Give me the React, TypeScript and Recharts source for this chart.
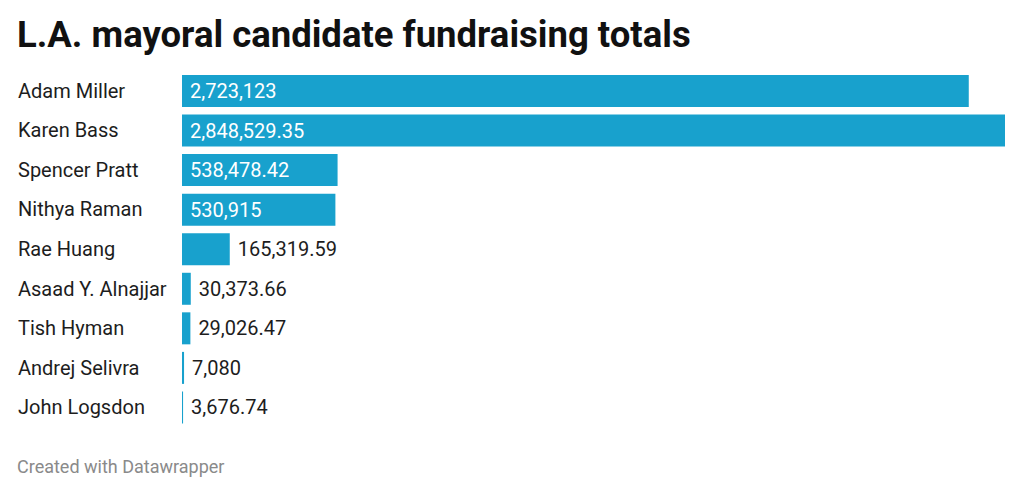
import React from 'react';
import { BarChart, Bar, XAxis, YAxis, LabelList } from 'recharts';

const candidates = [
  'Adam Miller',
  'Karen Bass',
  'Spencer Pratt',
  'Nithya Raman',
  'Rae Huang',
  'Asaad Y. Alnajjar',
  'Tish Hyman',
  'Andrej Selivra',
  'John Logsdon',
];

const totals = [
  2723123, 2848529.35, 538478.42, 530915, 165319.59, 30373.66, 29026.47, 7080,
  3676.74,
];

const data = candidates.map((name, i) => ({ name, total: totals[i] }));

const FONT = 'Roboto, "Noto Sans", sans-serif';
const BAR_COLOR = '#18a1cd';

const fmt = (v: number) =>
  v.toLocaleString('en-US', { maximumFractionDigits: 2 });

function NameTick({ y, payload }: any) {
  return (
    <text
      x={18}
      y={y}
      dy={7}
      textAnchor="start"
      fill="#1d1d1d"
      fontSize={20}
      fontFamily={FONT}
    >
      {payload.value}
    </text>
  );
}

function ValueLabel({ x, y, width, height, value }: any) {
  const text = fmt(value);
  const textWidth = text.length * 10;
  const inside = width > textWidth + 20;
  return (
    <text
      x={inside ? x + 8 : x + width + 8}
      y={y + height / 2}
      dy={7}
      textAnchor="start"
      fill={inside ? '#ffffff' : '#1d1d1d'}
      fontSize={20}
      fontFamily={FONT}
    >
      {text}
    </text>
  );
}

export default function App() {
  return (
    <div
      style={{
        position: 'absolute',
        left: 0,
        top: 0,
        width: 1023,
        height: 495,
        background: '#fff',
        fontFamily: FONT,
      }}
    >
      <div
        style={{
          position: 'absolute',
          left: 17,
          top: 15,
          fontSize: 36.5,
          lineHeight: '40px',
          fontWeight: 700,
          color: '#111',
          whiteSpace: 'nowrap',
        }}
      >
        L.A. mayoral candidate fundraising totals
      </div>
      <BarChart
        width={1023}
        height={440}
        data={data}
        layout="vertical"
        margin={{ top: 71, right: 18, bottom: 13, left: 0 }}
        style={{ position: 'absolute', left: 0, top: 0 }}
      >
        <XAxis type="number" hide domain={[0, 'dataMax']} />
        <YAxis
          type="category"
          dataKey="name"
          width={182}
          axisLine={false}
          tickLine={false}
          tick={<NameTick />}
          interval={0}
        />
        <Bar
          dataKey="total"
          fill={BAR_COLOR}
          barSize={32}
          isAnimationActive={false}
        >
          <LabelList dataKey="total" content={<ValueLabel />} />
        </Bar>
      </BarChart>
      <div
        style={{
          position: 'absolute',
          left: 17,
          top: 456,
          fontSize: 18,
          lineHeight: '22px',
          color: '#8a8a8a',
          whiteSpace: 'nowrap',
        }}
      >
        Created with Datawrapper
      </div>
    </div>
  );
}
